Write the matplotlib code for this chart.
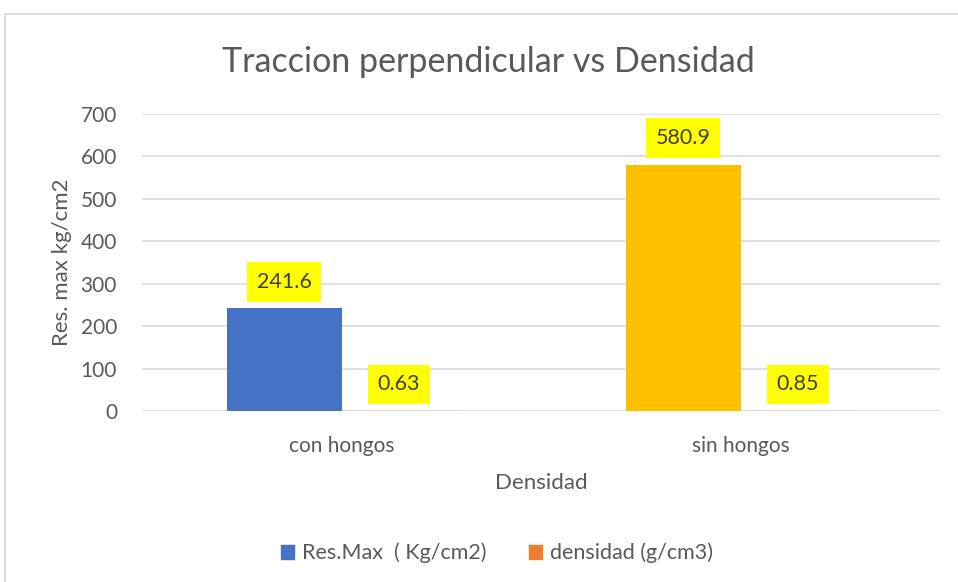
import matplotlib.pyplot as plt
from matplotlib.patches import Rectangle, Patch
import numpy as np

categories = ['con hongos', 'sin hongos']
res_max = [241.6, 580.9]
densidad = [0.63, 0.85]
res_labels = ['241.6', '580.9']
dens_labels = ['0.63', '0.85']
yticks = [0, 100, 200, 300, 400, 500, 600, 700]

blue = '#4472C4'
orange = '#ED7D31'
gold = '#FFC000'
text_color = '#595959'
grid_color = '#D9D9D9'

plt.rcParams['font.family'] = ['Lato', 'DejaVu Sans']

fig = plt.figure(figsize=(9.58, 5.82), dpi=100)
ax = fig.add_axes([142 / 958, 1 - 411 / 582, (940 - 142) / 958, (411 - 114) / 582])

# outer chart border (only top and left are visible in the crop)
fig.patches.append(Rectangle((5 / 958, -0.1), 1.2, 1 - 14 / 582 + 0.1,
                             transform=fig.transFigure, fill=False,
                             edgecolor='#D9D9D9', linewidth=1.2))

x = np.arange(len(categories))
w = 0.288
bars1 = ax.bar(x - w / 2, res_max, w, color=[blue, gold], zorder=3)
bars2 = ax.bar(x + w / 2, densidad, w, color=orange, edgecolor='#F4B183',
               linewidth=0.8, zorder=3)

for bars, labels in [(bars1, res_labels), (bars2, dens_labels)]:
    for b, lab in zip(bars, labels):
        ax.annotate(lab, (b.get_x() + b.get_width() / 2, b.get_height()),
                    xytext=(0, 19), textcoords='offset points',
                    ha='center', va='center', fontsize=15.5, color='#404040',
                    bbox=dict(boxstyle='square,pad=0.45', fc='#FFFF00', ec='none'),
                    zorder=5)

ax.set_xlim(-0.5, 1.5)
ax.set_ylim(0, 700)
ax.set_yticks(yticks)
ax.set_xticks(x)
ax.set_xticklabels(categories)
ax.tick_params(length=0, labelsize=15, colors=text_color)
ax.tick_params(axis='x', pad=18)
ax.tick_params(axis='y', pad=18)
ax.yaxis.grid(color=grid_color, linewidth=1.2, zorder=0)
ax.set_axisbelow(True)
for s in ax.spines.values():
    s.set_visible(False)

fig.text(488 / 958, 1 - 62 / 582, 'Traccion perpendicular vs Densidad',
         fontsize=24.5, color=text_color, ha='center', va='center')
ax.set_ylabel('Res. max kg/cm2', fontsize=16, color=text_color, labelpad=6)
ax.set_xlabel('Densidad', fontsize=16, color=text_color, labelpad=12)

handles = [Patch(color=blue, label='Res.Max  ( Kg/cm2)'),
           Patch(color=orange, label='densidad (g/cm3)')]
fig.legend(handles=handles, loc='center', bbox_to_anchor=(497 / 958, 1 - 553 / 582),
           ncol=2, frameon=False, fontsize=15.5, labelcolor=text_color,
           handlelength=0.6, handleheight=0.6, handletextpad=0.35, columnspacing=2.0)

fig.savefig('out.png', dpi=100)
